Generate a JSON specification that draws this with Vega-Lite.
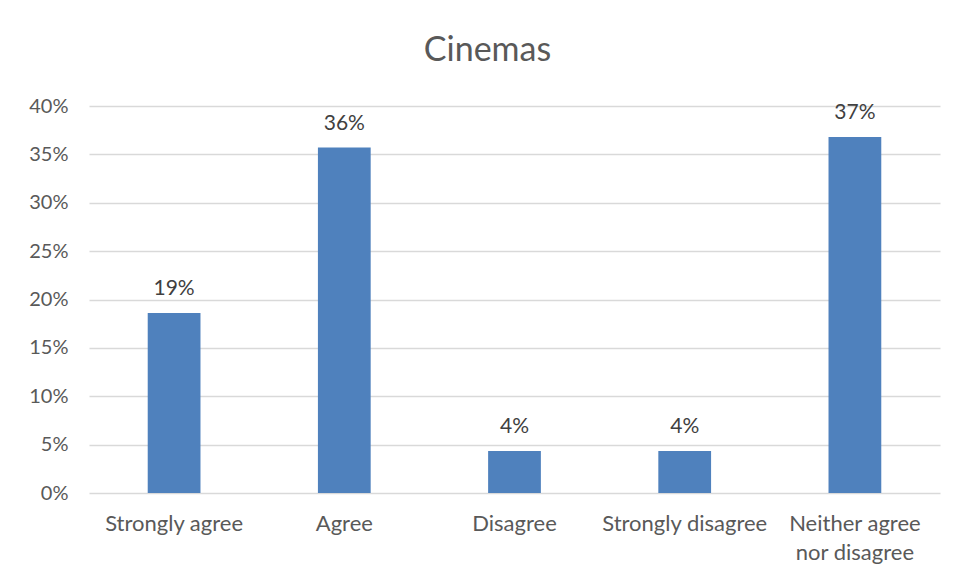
{
  "$schema": "https://vega.github.io/schema/vega-lite/v6.json",
  "width": 851,
  "height": 387,
  "autosize": {"type": "none"},
  "padding": {"left": 89, "top": 106, "right": 18, "bottom": 88},
  "background": "white",
  "config": {"view": {"stroke": null}, "font": "Lato"},
  "title": {"text": "Cinemas", "fontSize": 34, "font": "Lato", "fontWeight": "normal", "color": "#595959", "anchor": "middle", "offset": 28, "dx": -27},
  "data": {"values": [
    {"category": "Strongly agree", "value": 0.186},
    {"category": "Agree", "value": 0.357},
    {"category": "Disagree", "value": 0.0435},
    {"category": "Strongly disagree", "value": 0.0435},
    {"category": "Neither agree nor disagree", "value": 0.368}
  ]},
  "encoding": {
    "x": {"field": "category", "type": "nominal", "sort": null,
      "scale": {"paddingInner": 0.69, "paddingOuter": 0.345},
      "axis": {"title": null, "labelAngle": 0, "labelFontSize": 22, "labelColor": "#595959", "labelFont": "Lato", "ticks": false, "domain": false, "labelPadding": 20, "labelLineHeight": 29,
        "labelExpr": "datum.value == 'Neither agree nor disagree' ? ['Neither agree', 'nor disagree'] : datum.value"}},
    "y": {"field": "value", "type": "quantitative",
      "scale": {"domain": [0, 0.4]},
      "axis": {"title": null, "format": ".0%", "values": [0, 0.05, 0.1, 0.15, 0.2, 0.25, 0.3, 0.35, 0.4], "labelOverlap": false, "labelFontSize": 20, "labelColor": "#595959", "labelFont": "Lato", "ticks": false, "domain": false, "labelPadding": 21, "gridColor": "#d9d9d9", "gridWidth": 1.3}}
  },
  "layer": [
    {"mark": {"type": "bar", "color": "#4f81bd"}},
    {"mark": {"type": "text", "baseline": "bottom", "dy": -14, "fontSize": 21, "color": "#404040", "font": "Lato"},
      "encoding": {"text": {"field": "value", "type": "quantitative", "format": ".0%"}}}
  ]
}
